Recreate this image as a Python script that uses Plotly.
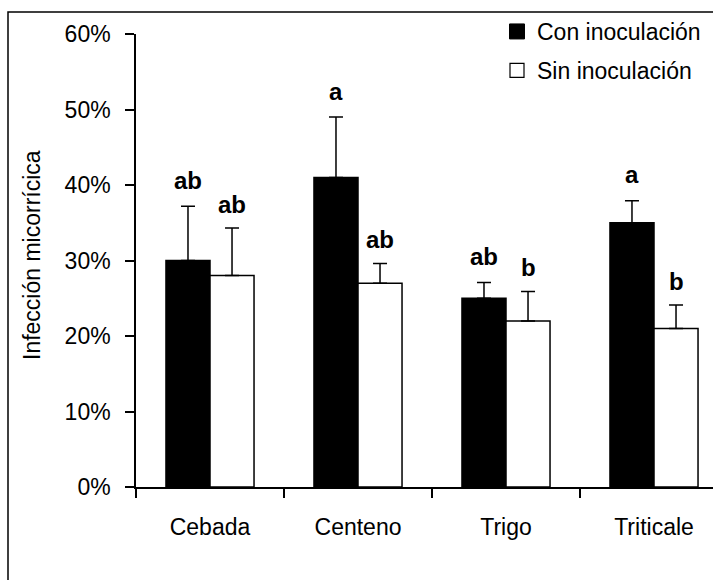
import plotly.graph_objects as go

categories = ["Cebada", "Centeno", "Trigo", "Triticale"]
con_vals = [30, 41, 25, 35]
con_err = [7.2, 8.0, 2.1, 2.9]
sin_vals = [28, 27, 22, 21]
sin_err = [6.3, 2.6, 3.9, 3.1]
con_letters = ["ab", "a", "ab", "a"]
sin_letters = ["ab", "ab", "b", "b"]
y_ticks = [0, 10, 20, 30, 40, 50, 60]
y_tick_labels = ["0%", "10%", "20%", "30%", "40%", "50%", "60%"]

FONT = "Liberation Sans, Arial, sans-serif"
W, H = 713, 580
ML, MR, MT, MB = 136, 0, 34, 93
PW, PH = W - ML - MR, H - MT - MB

def px_x(p):
    return (p - ML) / PW

def px_y(p):
    return (H - MB - p) / PH

fig = go.Figure()
fig.add_trace(go.Bar(
    name="Con inoculación", x=categories, y=con_vals,
    marker=dict(color="black", line=dict(color="black", width=1.5)),
    error_y=dict(type="data", symmetric=False, array=con_err,
                 arrayminus=[0] * len(con_err), color="black", thickness=1.5, width=7),
    showlegend=False,
))
fig.add_trace(go.Bar(
    name="Sin inoculación", x=categories, y=sin_vals,
    marker=dict(color="white", line=dict(color="black", width=1.5)),
    error_y=dict(type="data", symmetric=False, array=sin_err,
                 arrayminus=[0] * len(sin_err), color="black", thickness=1.5, width=7),
    showlegend=False,
))
# legend entries
fig.add_trace(go.Scatter(
    name="Con inoculación", x=[None], y=[None], mode="markers",
    marker=dict(symbol="square", size=15, color="black", line=dict(color="black", width=1)),
    legendgroup="a",
))
fig.add_trace(go.Scatter(
    name="Sin inoculación", x=[None], y=[None], mode="markers",
    marker=dict(symbol="square", size=14, color="white", line=dict(color="black", width=1.2)),
    legendgroup="b",
))

LBL = dict(size=24, family=FONT, color="black")
annotations = []
for i, c in enumerate(categories):
    annotations.append(dict(x=c, y=con_vals[i] + con_err[i], xref="x", yref="y",
                            text="<b>" + con_letters[i] + "</b>", showarrow=False,
                            xshift=-22, yshift=26, yanchor="middle", font=LBL))
    annotations.append(dict(x=c, y=sin_vals[i] + sin_err[i], xref="x", yref="y",
                            text="<b>" + sin_letters[i] + "</b>", showarrow=False,
                            xshift=22, yshift=24, yanchor="middle", font=LBL))
annotations.append(dict(x=px_x(32), y=px_y(255), xref="paper", yref="paper",
                        text="Infección micorrícica", textangle=-90, showarrow=False,
                        xanchor="center", yanchor="middle",
                        font=dict(size=23, family=FONT, color="black")))

fig.update_layout(
    width=W, height=H,
    margin=dict(l=ML, r=MR, t=MT, b=MB, pad=0),
    paper_bgcolor="white", plot_bgcolor="white",
    font=dict(family=FONT, color="black", size=22),
    barmode="group", bargap=0.405, bargroupgap=0,
    showlegend=True,
    legend=dict(x=px_x(497), y=px_y(10), xanchor="left", yanchor="top",
                font=dict(size=23, family=FONT, color="black"),
                bgcolor="rgba(0,0,0,0)", tracegroupgap=6, traceorder="grouped",
                itemwidth=30),
    annotations=annotations,
    shapes=[dict(type="rect", xref="paper", yref="paper",
                 x0=px_x(8), x1=1.02, y0=px_y(590), y1=px_y(12),
                 line=dict(color="black", width=1.5), fillcolor="rgba(0,0,0,0)", layer="below")],
)
fig.update_xaxes(
    type="category", range=[-0.5, -0.5 + PW / 148.0],
    showline=True, linecolor="black", linewidth=1.5,
    ticks="outside", tickson="boundaries", ticklen=9, tickwidth=1.5, tickcolor="black",
    showgrid=False, zeroline=False, ticklabelstandoff=19,
    tickfont=dict(size=23, family=FONT, color="black"),
)
fig.update_yaxes(
    range=[0, 60], tickmode="array", tickvals=y_ticks, ticktext=y_tick_labels,
    showline=True, linecolor="black", linewidth=1.5,
    ticks="outside", ticklen=9, tickwidth=1.5, tickcolor="black",
    showgrid=False, zeroline=False, ticklabelstandoff=10,
    tickfont=dict(size=23, family=FONT, color="black"),
)
fig.write_html("out.html")
